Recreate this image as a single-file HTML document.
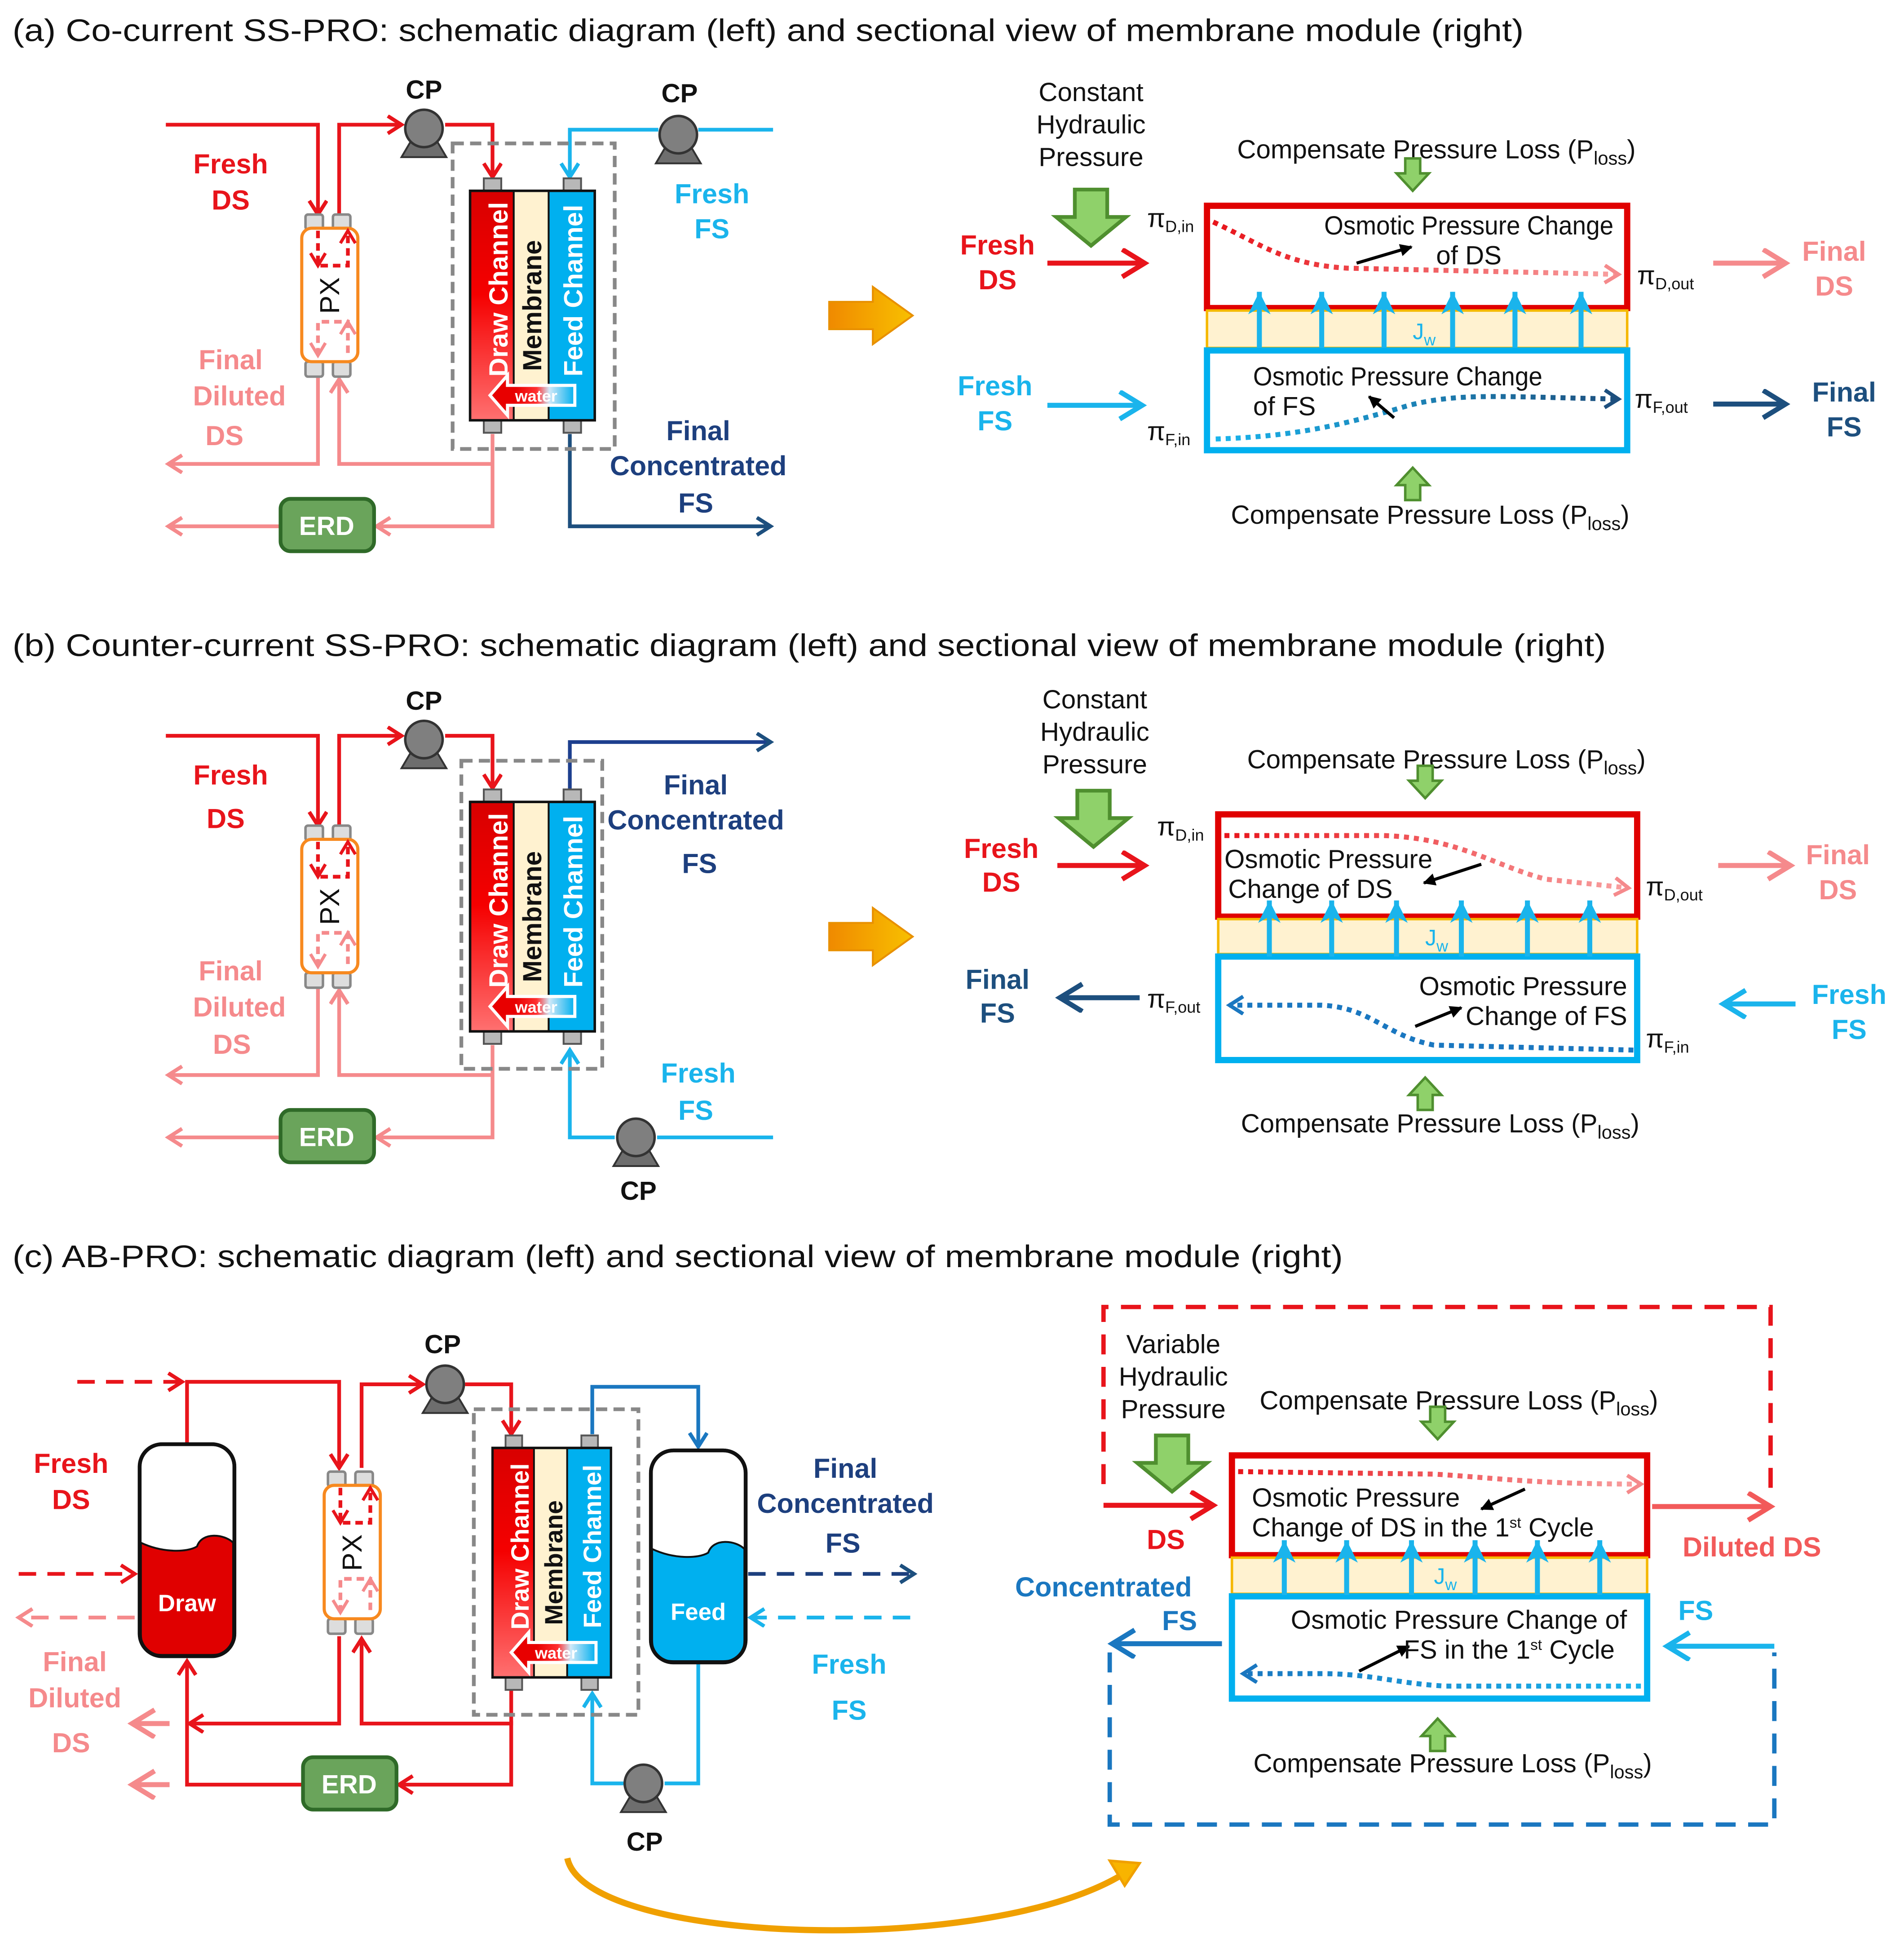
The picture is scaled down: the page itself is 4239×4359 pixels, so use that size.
<!DOCTYPE html>
<html><head><meta charset="utf-8"><style>
html,body{margin:0;padding:0;background:#fff}
svg{display:block}
text{font-family:"Liberation Sans",sans-serif}
.n{font-family:"Liberation Sans Narrow","Liberation Sans",sans-serif;font-size:21px;fill:#111}
.t{font-size:25px;fill:#111}
.b{font-weight:bold;font-size:22px}
.lab{font-weight:bold;font-size:21px;fill:#111;text-anchor:middle}
</style></head><body>
<svg width="4239" height="4359" viewBox="0 0 1527 1570" preserveAspectRatio="none" xmlns="http://www.w3.org/2000/svg">
<defs>
<marker id="aR" markerUnits="userSpaceOnUse" markerWidth="20" markerHeight="20" refX="12" refY="8" orient="auto"><path d="M1,1 L12,8 L1,15" fill="none" stroke="#e8141b" stroke-width="3"/></marker>
<marker id="aP" markerUnits="userSpaceOnUse" markerWidth="20" markerHeight="20" refX="12" refY="8" orient="auto"><path d="M1,1 L12,8 L1,15" fill="none" stroke="#f58a8c" stroke-width="3"/></marker>
<marker id="aB" markerUnits="userSpaceOnUse" markerWidth="20" markerHeight="20" refX="12" refY="8" orient="auto"><path d="M1,1 L12,8 L1,15" fill="none" stroke="#1ab4ec" stroke-width="3"/></marker>
<marker id="aN" markerUnits="userSpaceOnUse" markerWidth="20" markerHeight="20" refX="12" refY="8" orient="auto"><path d="M1,1 L12,8 L1,15" fill="none" stroke="#1d4f7e" stroke-width="3"/></marker>
<marker id="aD" markerUnits="userSpaceOnUse" markerWidth="20" markerHeight="20" refX="12" refY="8" orient="auto"><path d="M1,1 L12,8 L1,15" fill="none" stroke="#1a77c0" stroke-width="3"/></marker>
<marker id="aK" markerUnits="userSpaceOnUse" markerWidth="14" markerHeight="14" refX="9" refY="5" orient="auto"><path d="M0,0 L10,5 L0,10z" fill="#000"/></marker>
<marker id="AR" markerUnits="userSpaceOnUse" markerWidth="30" markerHeight="30" refX="20" refY="12" orient="auto"><path d="M2,1 L20,12 L2,23" fill="none" stroke="#e8141b" stroke-width="4"/></marker>
<marker id="AP" markerUnits="userSpaceOnUse" markerWidth="30" markerHeight="30" refX="20" refY="12" orient="auto"><path d="M2,1 L20,12 L2,23" fill="none" stroke="#f58a8c" stroke-width="4"/></marker>
<marker id="APR" markerUnits="userSpaceOnUse" markerWidth="30" markerHeight="30" refX="20" refY="12" orient="auto"><path d="M2,1 L20,12 L2,23" fill="none" stroke="#f25a5a" stroke-width="4"/></marker>
<marker id="AB" markerUnits="userSpaceOnUse" markerWidth="30" markerHeight="30" refX="20" refY="12" orient="auto"><path d="M2,1 L20,12 L2,23" fill="none" stroke="#1ab4ec" stroke-width="4"/></marker>
<marker id="AN" markerUnits="userSpaceOnUse" markerWidth="30" markerHeight="30" refX="20" refY="12" orient="auto"><path d="M2,1 L20,12 L2,23" fill="none" stroke="#1d4f7e" stroke-width="4"/></marker>
<marker id="AD" markerUnits="userSpaceOnUse" markerWidth="30" markerHeight="30" refX="20" refY="12" orient="auto"><path d="M2,1 L20,12 L2,23" fill="none" stroke="#1a77c0" stroke-width="4"/></marker>
<marker id="UB" markerUnits="userSpaceOnUse" markerWidth="30" markerHeight="30" refX="18" refY="10" orient="auto"><path d="M0,1 L18,10 L0,19 L5,10z" fill="#1ab4ec"/></marker>
<linearGradient id="gDraw" x1="0" y1="0" x2="0" y2="1"><stop offset="0" stop-color="#d80000"/><stop offset="0.45" stop-color="#f50000"/><stop offset="1" stop-color="#ff7070"/></linearGradient>
<linearGradient id="gWater" x1="0" y1="0" x2="1" y2="0"><stop offset="0.3" stop-color="#e80000"/><stop offset="0.55" stop-color="#ff3030"/><stop offset="0.7" stop-color="#d0e8f8"/><stop offset="1" stop-color="#00b0ef"/></linearGradient>
<linearGradient id="gDotR" x1="0" y1="0" x2="1" y2="0"><stop offset="0" stop-color="#e8141b"/><stop offset="1" stop-color="#f8a0a0"/></linearGradient>
<linearGradient id="gDotB" x1="0" y1="0" x2="1" y2="0"><stop offset="0" stop-color="#1ab4ec"/><stop offset="1" stop-color="#1d4f7e"/></linearGradient>
<linearGradient id="gDotB2" x1="0" y1="0" x2="1" y2="0"><stop offset="0" stop-color="#1a77c0"/><stop offset="1" stop-color="#1ab4ec"/></linearGradient>
<linearGradient id="gOr" x1="0" y1="0" x2="1" y2="0"><stop offset="0" stop-color="#f08a00"/><stop offset="1" stop-color="#f8c000"/></linearGradient>
<g id="modShape">
  <rect x="11" y="-10" width="14" height="10" fill="#b8b8b8" stroke="#555" stroke-width="1.5"/>
  <rect x="75" y="-10" width="14" height="10" fill="#b8b8b8" stroke="#555" stroke-width="1.5"/>
  <rect x="11" y="184" width="14" height="10" fill="#b8b8b8" stroke="#555" stroke-width="1.5"/>
  <rect x="75" y="184" width="14" height="10" fill="#b8b8b8" stroke="#555" stroke-width="1.5"/>
  <rect x="0" y="0" width="35" height="184" fill="url(#gDraw)"/>
  <rect x="35" y="0" width="28" height="184" fill="#fff2d0"/>
  <rect x="63" y="0" width="37" height="184" fill="#00b0ef"/>
  <rect x="0" y="0" width="100" height="184" fill="none" stroke="#111" stroke-width="2"/>
  <line x1="35" y1="0" x2="35" y2="184" stroke="#111" stroke-width="1.5"/>
  <line x1="63" y1="0" x2="63" y2="184" stroke="#111" stroke-width="1.5"/>
</g>
<g id="pxShape">
  <rect x="3" y="-11" width="14" height="12" rx="2" fill="#ddd" stroke="#888" stroke-width="2"/>
  <rect x="25" y="-11" width="14" height="12" rx="2" fill="#ddd" stroke="#888" stroke-width="2"/>
  <rect x="3" y="107" width="14" height="12" rx="2" fill="#ddd" stroke="#888" stroke-width="2"/>
  <rect x="25" y="107" width="14" height="12" rx="2" fill="#ddd" stroke="#888" stroke-width="2"/>
  <rect x="0" y="0" width="45" height="107" rx="8" fill="#fff" stroke="#f7891f" stroke-width="2.5"/>
  <path d="M13,2 V30 H37 V2" fill="none" stroke="#e8141b" stroke-width="3" stroke-dasharray="6,4"/>
  <path d="M13,102 V75 H37 V102" fill="none" stroke="#f58a8c" stroke-width="3" stroke-dasharray="6,4"/>
  <path d="M7,20 L13,30 L19,20" fill="none" stroke="#e8141b" stroke-width="2.5"/>
  <path d="M31,12 L37,2 L43,12" fill="none" stroke="#e8141b" stroke-width="2.5"/>
  <path d="M7,92 L13,102 L19,92" fill="none" stroke="#f58a8c" stroke-width="2.5"/>
  <path d="M31,85 L37,75 L43,85" fill="none" stroke="#f58a8c" stroke-width="2.5"/>
</g>
<g id="pump">
  <path d="M-18,23 L-8,6 L8,6 L18,23z" fill="#6e6e6e" stroke="#333" stroke-width="1.5"/>
  <circle cx="0" cy="0" r="15" fill="#7f7f7f" stroke="#333" stroke-width="2"/>
</g>
<g id="gdown"><path d="M-6,-18 H6 V-6 H13 L0,8 L-13,-6 H-6z" fill="#8fd16a" stroke="#4f8f2f" stroke-width="2"/></g>
<g id="gup"><path d="M-6,18 H6 V6 H13 L0,-8 L-13,6 H-6z" fill="#8fd16a" stroke="#4f8f2f" stroke-width="2"/></g>
<g id="gbig"><path d="M-13,0 H13 V22 H28 L0,45 L-28,22 H-13z" fill="#8fd16a" stroke="#4f8f2f" stroke-width="3"/></g>
<g id="wat"><path d="M0,12 L14,-4 V4 H68 V20 H14 V28z" fill="url(#gWater)" stroke="#fff" stroke-width="2.5"/></g>
<g id="erd"><rect x="0" y="0" width="75" height="42" rx="8" fill="#6aa45b" stroke="#2f6a28" stroke-width="3"/></g>
</defs>

<rect width="1527" height="1570" fill="#fff"/>

<!-- ================= (a) ================= -->
<text x="10" y="33" class="t" textLength="1212" lengthAdjust="spacingAndGlyphs">(a) Co-current SS-PRO: schematic diagram (left) and sectional view of membrane module (right)</text>

<g fill="none" stroke-width="3">
<polyline points="133,100 255,100 255,172" stroke="#e8141b" marker-end="url(#aR)"/>
<polyline points="272,172 272,100 322,100" stroke="#e8141b" marker-end="url(#aR)"/>
<polyline points="357,100 395,100 395,142" stroke="#e8141b" marker-end="url(#aR)"/>
<polyline points="620,104 560,104" stroke="#1ab4ec"/>
<polyline points="528,104 457,104 457,142" stroke="#1ab4ec" marker-end="url(#aB)"/>
<polyline points="457,348 457,422 618,422" stroke="#1d4f7e" marker-end="url(#aN)"/>
<polyline points="395,348 395,422 302,422" stroke="#f58a8c" marker-end="url(#aP)"/>
<polyline points="225,422 135,422" stroke="#f58a8c" marker-end="url(#aP)"/>
<polyline points="395,372 272,372 272,304" stroke="#f58a8c" marker-end="url(#aP)"/>
<polyline points="255,302 255,372 135,372" stroke="#f58a8c" marker-end="url(#aP)"/>
</g>
<use href="#pxShape" x="242" y="183"/>
<text transform="translate(272,237) rotate(-90)" text-anchor="middle" font-size="22" fill="#111">PX</text>
<rect x="363" y="115" width="130" height="245" fill="none" stroke="#888" stroke-width="3" stroke-dasharray="9,5"/>
<use href="#modShape" x="377" y="153"/>
<text transform="translate(407,232) rotate(-90)" text-anchor="middle" font-size="21" font-weight="bold" fill="#fff">Draw Channel</text>
<text transform="translate(434,245) rotate(-90)" text-anchor="middle" font-size="21" font-weight="bold" fill="#111">Membrane</text>
<text transform="translate(467,233) rotate(-90)" text-anchor="middle" font-size="21" font-weight="bold" fill="#fff">Feed Channel</text>
<use href="#wat" x="393" y="305"/>
<text x="430" y="322" font-size="13" font-weight="bold" fill="#fff" text-anchor="middle">water</text>
<use href="#pump" x="340" y="103"/>
<use href="#pump" x="544" y="108"/>
<text x="340" y="79" class="lab">CP</text>
<text x="545" y="82" class="lab">CP</text>
<text x="185" y="139" class="b" fill="#e8141b" text-anchor="middle">Fresh</text>
<text x="185" y="168" class="b" fill="#e8141b" text-anchor="middle">DS</text>
<text x="571" y="163" class="b" fill="#1ab4ec" text-anchor="middle">Fresh</text>
<text x="571" y="191" class="b" fill="#1ab4ec" text-anchor="middle">FS</text>
<text x="185" y="296" class="b" fill="#f58a8c" text-anchor="middle">Final</text>
<text x="192" y="325" class="b" fill="#f58a8c" text-anchor="middle">Diluted</text>
<text x="180" y="357" class="b" fill="#f58a8c" text-anchor="middle">DS</text>
<text x="560" y="353" class="b" fill="#1d3f7e" text-anchor="middle">Final</text>
<text x="560" y="381" class="b" fill="#1d3f7e" text-anchor="middle">Concentrated</text>
<text x="558" y="411" class="b" fill="#1d3f7e" text-anchor="middle">FS</text>
<use href="#erd" x="225" y="400"/>
<text x="262" y="429" font-size="21" font-weight="bold" fill="#fff" text-anchor="middle">ERD</text>
<path d="M665,242 H700 V230 L732,253 L700,276 V264 H665z" fill="url(#gOr)" stroke="#e89000" stroke-width="1.5"/>

<!-- (a) right -->
<text x="875" y="81" class="n" text-anchor="middle">Constant</text>
<text x="875" y="107" class="n" text-anchor="middle">Hydraulic</text>
<text x="875" y="133" class="n" text-anchor="middle">Pressure</text>
<use href="#gbig" x="875" y="152"/>
<text x="1152" y="127" class="n" text-anchor="middle">Compensate Pressure Loss (P<tspan font-size="15" dy="5">loss</tspan><tspan dy="-5">)</tspan></text>
<use href="#gdown" x="1133" y="145"/>
<rect x="968" y="165" width="337" height="82" fill="#fff" stroke="#e00000" stroke-width="5"/>
<rect x="968" y="249" width="337" height="30" fill="#fff2d0" stroke="#f5b800" stroke-width="2"/>
<rect x="968" y="281" width="337" height="80" fill="#fff" stroke="#00b0ef" stroke-width="5"/>
<g stroke="#1ab4ec" stroke-width="4" marker-end="url(#UB)">
<line x1="1010" y1="279" x2="1010" y2="234"/><line x1="1060" y1="279" x2="1060" y2="234"/><line x1="1110" y1="279" x2="1110" y2="234"/><line x1="1165" y1="279" x2="1165" y2="234"/><line x1="1215" y1="279" x2="1215" y2="234"/><line x1="1268" y1="279" x2="1268" y2="234"/>
</g>
<text x="1133" y="272" font-size="18" fill="#1ab4ec" font-family="Liberation Sans Narrow,Liberation Sans,sans-serif">J<tspan font-size="13" dy="5">w</tspan></text>
<path d="M973,178 C1010,195 1030,212 1080,215 L1298,220" fill="none" stroke="url(#gDotR)" stroke-width="4" stroke-dasharray="4,4" marker-end="url(#aP)"/>
<line x1="1088" y1="211" x2="1132" y2="198" stroke="#000" stroke-width="2.5" marker-end="url(#aK)"/>
<text x="1178" y="188" class="n" font-size="19" text-anchor="middle" textLength="232" lengthAdjust="spacingAndGlyphs">Osmotic Pressure Change</text>
<text x="1178" y="212" class="n" font-size="19" text-anchor="middle">of DS</text>
<path d="M975,352 C1040,350 1080,340 1130,325 C1170,315 1200,318 1298,320" fill="none" stroke="url(#gDotB)" stroke-width="4" stroke-dasharray="4,4" marker-end="url(#aN)"/>
<line x1="1118" y1="335" x2="1098" y2="318" stroke="#000" stroke-width="2.5" marker-end="url(#aK)"/>
<text x="1005" y="309" class="n" font-size="19" textLength="232" lengthAdjust="spacingAndGlyphs">Osmotic Pressure Change</text>
<text x="1005" y="333" class="n" font-size="19">of FS</text>
<text x="920" y="182" class="n" font-size="17">π<tspan font-size="13" dy="4">D,in</tspan></text>
<text x="1313" y="228" class="n" font-size="17">π<tspan font-size="13" dy="4">D,out</tspan></text>
<text x="920" y="353" class="n" font-size="17">π<tspan font-size="13" dy="4">F,in</tspan></text>
<text x="1311" y="327" class="n" font-size="17">π<tspan font-size="13" dy="4">F,out</tspan></text>
<line x1="840" y1="211" x2="918" y2="211" stroke="#e8141b" stroke-width="4" marker-end="url(#AR)"/>
<line x1="840" y1="325" x2="916" y2="325" stroke="#1ab4ec" stroke-width="4" marker-end="url(#AB)"/>
<line x1="1374" y1="211" x2="1432" y2="211" stroke="#f58a8c" stroke-width="4" marker-end="url(#AP)"/>
<line x1="1374" y1="324" x2="1432" y2="324" stroke="#1d4f7e" stroke-width="4" marker-end="url(#AN)"/>
<text x="800" y="204" class="b" fill="#e8141b" text-anchor="middle">Fresh</text>
<text x="800" y="232" class="b" fill="#e8141b" text-anchor="middle">DS</text>
<text x="798" y="317" class="b" fill="#1ab4ec" text-anchor="middle">Fresh</text>
<text x="798" y="345" class="b" fill="#1ab4ec" text-anchor="middle">FS</text>
<text x="1471" y="209" class="b" fill="#f58a8c" text-anchor="middle">Final</text>
<text x="1471" y="237" class="b" fill="#f58a8c" text-anchor="middle">DS</text>
<text x="1479" y="322" class="b" fill="#1d4f7e" text-anchor="middle">Final</text>
<text x="1479" y="350" class="b" fill="#1d4f7e" text-anchor="middle">FS</text>
<use href="#gup" x="1133" y="383"/>
<text x="1147" y="420" class="n" text-anchor="middle">Compensate Pressure Loss (P<tspan font-size="15" dy="5">loss</tspan><tspan dy="-5">)</tspan></text>

<!-- ================= (b) ================= -->
<text x="10" y="526" class="t" textLength="1278" lengthAdjust="spacingAndGlyphs">(b) Counter-current SS-PRO: schematic diagram (left) and sectional view of membrane module (right)</text>
<g fill="none" stroke-width="3">
<polyline points="133,590 255,590 255,662" stroke="#e8141b" marker-end="url(#aR)"/>
<polyline points="272,662 272,590 322,590" stroke="#e8141b" marker-end="url(#aR)"/>
<polyline points="357,590 395,590 395,632" stroke="#e8141b" marker-end="url(#aR)"/>
<polyline points="457,633 457,595 618,595" stroke="#1d3f8e" marker-end="url(#aN)"/>
<polyline points="620,912 527,912" stroke="#1ab4ec"/>
<polyline points="493,912 457,912 457,842" stroke="#1ab4ec" marker-end="url(#aB)"/>
<polyline points="395,838 395,912 302,912" stroke="#f58a8c" marker-end="url(#aP)"/>
<polyline points="225,912 135,912" stroke="#f58a8c" marker-end="url(#aP)"/>
<polyline points="395,862 272,862 272,794" stroke="#f58a8c" marker-end="url(#aP)"/>
<polyline points="255,792 255,862 135,862" stroke="#f58a8c" marker-end="url(#aP)"/>
</g>
<use href="#pxShape" x="242" y="673"/>
<text transform="translate(272,727) rotate(-90)" text-anchor="middle" font-size="22" fill="#111">PX</text>
<rect x="370" y="610" width="113" height="247" fill="none" stroke="#888" stroke-width="3" stroke-dasharray="9,5"/>
<use href="#modShape" x="377" y="643"/>
<text transform="translate(407,722) rotate(-90)" text-anchor="middle" font-size="21" font-weight="bold" fill="#fff">Draw Channel</text>
<text transform="translate(434,735) rotate(-90)" text-anchor="middle" font-size="21" font-weight="bold" fill="#111">Membrane</text>
<text transform="translate(467,723) rotate(-90)" text-anchor="middle" font-size="21" font-weight="bold" fill="#fff">Feed Channel</text>
<use href="#wat" x="393" y="795"/>
<text x="430" y="812" font-size="13" font-weight="bold" fill="#fff" text-anchor="middle">water</text>
<use href="#pump" x="340" y="593"/>
<use href="#pump" x="510" y="912"/>
<text x="340" y="569" class="lab">CP</text>
<text x="512" y="962" class="lab">CP</text>
<text x="185" y="629" class="b" fill="#e8141b" text-anchor="middle">Fresh</text>
<text x="181" y="664" class="b" fill="#e8141b" text-anchor="middle">DS</text>
<text x="185" y="786" class="b" fill="#f58a8c" text-anchor="middle">Final</text>
<text x="192" y="815" class="b" fill="#f58a8c" text-anchor="middle">Diluted</text>
<text x="186" y="845" class="b" fill="#f58a8c" text-anchor="middle">DS</text>
<text x="558" y="637" class="b" fill="#1d3f7e" text-anchor="middle">Final</text>
<text x="558" y="665" class="b" fill="#1d3f7e" text-anchor="middle">Concentrated</text>
<text x="561" y="700" class="b" fill="#1d3f7e" text-anchor="middle">FS</text>
<text x="560" y="868" class="b" fill="#1ab4ec" text-anchor="middle">Fresh</text>
<text x="558" y="898" class="b" fill="#1ab4ec" text-anchor="middle">FS</text>
<use href="#erd" x="225" y="890"/>
<text x="262" y="919" font-size="21" font-weight="bold" fill="#fff" text-anchor="middle">ERD</text>
<path d="M665,740 H700 V728 L732,751 L700,774 V762 H665z" fill="url(#gOr)" stroke="#e89000" stroke-width="1.5"/>

<!-- (b) right -->
<text x="878" y="568" class="n" text-anchor="middle">Constant</text>
<text x="878" y="594" class="n" text-anchor="middle">Hydraulic</text>
<text x="878" y="620" class="n" text-anchor="middle">Pressure</text>
<use href="#gbig" x="877" y="634"/>
<text x="1160" y="616" class="n" text-anchor="middle">Compensate Pressure Loss (P<tspan font-size="15" dy="5">loss</tspan><tspan dy="-5">)</tspan></text>
<use href="#gdown" x="1143" y="632"/>
<rect x="977" y="653" width="336" height="82" fill="#fff" stroke="#e00000" stroke-width="5"/>
<rect x="977" y="737" width="336" height="28" fill="#fff2d0" stroke="#f5b800" stroke-width="2"/>
<rect x="977" y="767" width="336" height="83" fill="#fff" stroke="#00b0ef" stroke-width="5"/>
<g stroke="#1ab4ec" stroke-width="4" marker-end="url(#UB)">
<line x1="1018" y1="767" x2="1018" y2="722"/><line x1="1068" y1="767" x2="1068" y2="722"/><line x1="1120" y1="767" x2="1120" y2="722"/><line x1="1172" y1="767" x2="1172" y2="722"/><line x1="1225" y1="767" x2="1225" y2="722"/><line x1="1275" y1="767" x2="1275" y2="722"/>
</g>
<text x="1143" y="758" font-size="18" fill="#1ab4ec" font-family="Liberation Sans Narrow,Liberation Sans,sans-serif">J<tspan font-size="13" dy="5">w</tspan></text>
<path d="M982,670 L1110,670 C1170,672 1200,695 1240,705 L1306,712" fill="none" stroke="url(#gDotR)" stroke-width="4" stroke-dasharray="4,4" marker-end="url(#aP)"/>
<line x1="1188" y1="693" x2="1142" y2="708" stroke="#000" stroke-width="2.5" marker-end="url(#aK)"/>
<text x="982" y="696" class="n" font-size="19">Osmotic Pressure</text>
<text x="985" y="720" class="n" font-size="19">Change of DS</text>
<path d="M1310,842 L1150,838 C1110,830 1100,808 1060,806 L986,806" fill="none" stroke="#1a77c0" stroke-width="4" stroke-dasharray="4,4" marker-end="url(#aD)"/>
<line x1="1135" y1="823" x2="1172" y2="808" stroke="#000" stroke-width="2.5" marker-end="url(#aK)"/>
<text x="1305" y="798" class="n" font-size="19" text-anchor="end">Osmotic Pressure</text>
<text x="1305" y="822" class="n" font-size="19" text-anchor="end">Change of FS</text>
<text x="928" y="670" class="n" font-size="17">π<tspan font-size="13" dy="4">D,in</tspan></text>
<text x="1320" y="718" class="n" font-size="17">π<tspan font-size="13" dy="4">D,out</tspan></text>
<text x="920" y="808" class="n" font-size="17">π<tspan font-size="13" dy="4">F,out</tspan></text>
<text x="1320" y="840" class="n" font-size="17">π<tspan font-size="13" dy="4">F,in</tspan></text>
<line x1="848" y1="694" x2="918" y2="694" stroke="#e8141b" stroke-width="4" marker-end="url(#AR)"/>
<line x1="914" y1="800" x2="850" y2="800" stroke="#1d4f7e" stroke-width="4" marker-end="url(#AN)"/>
<line x1="1378" y1="694" x2="1436" y2="694" stroke="#f58a8c" stroke-width="4" marker-end="url(#AP)"/>
<line x1="1440" y1="805" x2="1382" y2="805" stroke="#1ab4ec" stroke-width="4" marker-end="url(#AB)"/>
<text x="803" y="688" class="b" fill="#e8141b" text-anchor="middle">Fresh</text>
<text x="803" y="715" class="b" fill="#e8141b" text-anchor="middle">DS</text>
<text x="800" y="793" class="b" fill="#1d4f7e" text-anchor="middle">Final</text>
<text x="800" y="820" class="b" fill="#1d4f7e" text-anchor="middle">FS</text>
<text x="1474" y="693" class="b" fill="#f58a8c" text-anchor="middle">Final</text>
<text x="1474" y="721" class="b" fill="#f58a8c" text-anchor="middle">DS</text>
<text x="1483" y="805" class="b" fill="#1ab4ec" text-anchor="middle">Fresh</text>
<text x="1483" y="833" class="b" fill="#1ab4ec" text-anchor="middle">FS</text>
<use href="#gup" x="1143" y="872"/>
<text x="1155" y="908" class="n" text-anchor="middle">Compensate Pressure Loss (P<tspan font-size="15" dy="5">loss</tspan><tspan dy="-5">)</tspan></text>

<!-- ================= (c) ================= -->
<text x="10" y="1016" class="t" textLength="1067" lengthAdjust="spacingAndGlyphs">(c) AB-PRO: schematic diagram (left) and sectional view of membrane module (right)</text>
<g fill="none" stroke-width="3">
<line x1="62" y1="1108" x2="146" y2="1108" stroke="#e8141b" stroke-dasharray="14,9" marker-end="url(#aR)"/>
<polyline points="150,1158 150,1108 272,1108 272,1177" stroke="#e8141b" marker-end="url(#aR)"/>
<polyline points="290,1177 290,1110 339,1110" stroke="#e8141b" marker-end="url(#aR)"/>
<polyline points="373,1110 410,1110 410,1150" stroke="#e8141b" marker-end="url(#aR)"/>
<line x1="15" y1="1262" x2="108" y2="1262" stroke="#e8141b" stroke-dasharray="14,9" marker-end="url(#aR)"/>
<line x1="108" y1="1297" x2="15" y2="1297" stroke="#f58a8c" stroke-dasharray="14,9" marker-end="url(#aP)"/>
<polyline points="272,1312 272,1382 152,1382" stroke="#e8141b" marker-end="url(#aR)"/>
<polyline points="410,1355 410,1382 290,1382 290,1314" stroke="#e8141b" marker-end="url(#aR)"/>
<polyline points="410,1380 410,1431 320,1431" stroke="#e8141b" marker-end="url(#aR)"/>
<polyline points="243,1431 150,1431 150,1332" stroke="#e8141b" marker-end="url(#aR)"/>
<line x1="136" y1="1382" x2="106" y2="1382" stroke="#f58a8c" marker-end="url(#AP)" stroke-width="4"/>
<line x1="136" y1="1431" x2="106" y2="1431" stroke="#f58a8c" marker-end="url(#AP)" stroke-width="4"/>
<polyline points="475,1150 475,1112 560,1112 560,1160" stroke="#1a77c0" marker-end="url(#aD)"/>
<polyline points="560,1333 560,1430 533,1430" stroke="#1ab4ec"/>
<polyline points="500,1430 475,1430 475,1358" stroke="#1ab4ec" marker-end="url(#aB)"/>
<line x1="600" y1="1262" x2="733" y2="1262" stroke="#1d3f7e" stroke-dasharray="14,9" marker-end="url(#aN)"/>
<line x1="730" y1="1297" x2="602" y2="1297" stroke="#1ab4ec" stroke-dasharray="14,9" marker-end="url(#aB)"/>
</g>
<!-- tanks -->
<rect x="112" y="1158" width="76" height="170" rx="18" fill="#fff" stroke="#111" stroke-width="3"/>
<path d="M113,1237 C130,1245 150,1245 158,1240 C162,1228 180,1230 187,1237 V1310 Q187,1327 170,1327 H130 Q113,1327 113,1310z" fill="#e00000" stroke="#111" stroke-width="1.5"/>
<rect x="112" y="1158" width="76" height="170" rx="18" fill="none" stroke="#111" stroke-width="3"/>
<text x="150" y="1292" font-size="19" font-weight="bold" fill="#fff" text-anchor="middle">Draw</text>
<rect x="522" y="1163" width="76" height="170" rx="18" fill="#fff" stroke="#111" stroke-width="3"/>
<path d="M523,1242 C540,1250 560,1250 568,1245 C572,1233 590,1235 597,1242 V1315 Q597,1332 580,1332 H540 Q523,1332 523,1315z" fill="#00b0ef" stroke="#111" stroke-width="1.5"/>
<rect x="522" y="1163" width="76" height="170" rx="18" fill="none" stroke="#111" stroke-width="3"/>
<text x="560" y="1299" font-size="19" font-weight="bold" fill="#fff" text-anchor="middle">Feed</text>
<use href="#pxShape" x="260" y="1191"/>
<text transform="translate(290,1245) rotate(-90)" text-anchor="middle" font-size="22" fill="#111">PX</text>
<rect x="380" y="1130" width="132" height="245" fill="none" stroke="#888" stroke-width="3" stroke-dasharray="9,5"/>
<g transform="translate(395,1161) scale(0.95,1)"><use href="#modShape"/></g>
<text transform="translate(424,1240) rotate(-90)" text-anchor="middle" font-size="20" font-weight="bold" fill="#fff">Draw Channel</text>
<text transform="translate(451,1253) rotate(-90)" text-anchor="middle" font-size="20" font-weight="bold" fill="#111">Membrane</text>
<text transform="translate(482,1240) rotate(-90)" text-anchor="middle" font-size="20" font-weight="bold" fill="#fff">Feed Channel</text>
<use href="#wat" x="410" y="1313"/>
<text x="446" y="1330" font-size="13" font-weight="bold" fill="#fff" text-anchor="middle">water</text>
<use href="#pump" x="357" y="1110"/>
<use href="#pump" x="516" y="1430"/>
<text x="355" y="1085" class="lab">CP</text>
<text x="517" y="1484" class="lab">CP</text>
<use href="#erd" x="243" y="1409"/>
<text x="280" y="1438" font-size="21" font-weight="bold" fill="#fff" text-anchor="middle">ERD</text>
<text x="57" y="1181" class="b" fill="#e8141b" text-anchor="middle">Fresh</text>
<text x="57" y="1210" class="b" fill="#e8141b" text-anchor="middle">DS</text>
<text x="60" y="1340" class="b" fill="#f58a8c" text-anchor="middle">Final</text>
<text x="60" y="1369" class="b" fill="#f58a8c" text-anchor="middle">Diluted</text>
<text x="57" y="1405" class="b" fill="#f58a8c" text-anchor="middle">DS</text>
<text x="678" y="1185" class="b" fill="#1d3f7e" text-anchor="middle">Final</text>
<text x="678" y="1213" class="b" fill="#1d3f7e" text-anchor="middle">Concentrated</text>
<text x="676" y="1245" class="b" fill="#1d3f7e" text-anchor="middle">FS</text>
<text x="681" y="1342" class="b" fill="#1ab4ec" text-anchor="middle">Fresh</text>
<text x="681" y="1379" class="b" fill="#1ab4ec" text-anchor="middle">FS</text>
<path d="M455,1490 C470,1560 800,1570 905,1500" fill="none" stroke="#f0a000" stroke-width="5"/>
<path d="M890,1492 L914,1494 L902,1512z" fill="#f8b400" stroke="#f0a000" stroke-width="2"/>

<!-- (c) right -->
<polyline points="885,1190 885,1048 1420,1048 1420,1200" fill="none" stroke="#e8141b" stroke-width="3.5" stroke-dasharray="16,10"/>
<polyline points="890,1325 890,1463 1423,1463 1423,1325" fill="none" stroke="#1a77c0" stroke-width="3.5" stroke-dasharray="16,10"/>
<text x="941" y="1085" class="n" text-anchor="middle">Variable</text>
<text x="941" y="1111" class="n" text-anchor="middle">Hydraulic</text>
<text x="941" y="1137" class="n" text-anchor="middle">Pressure</text>
<use href="#gbig" x="940" y="1151"/>
<text x="1170" y="1130" class="n" text-anchor="middle">Compensate Pressure Loss (P<tspan font-size="15" dy="5">loss</tspan><tspan dy="-5">)</tspan></text>
<use href="#gdown" x="1153" y="1146"/>
<rect x="988" y="1167" width="333" height="80" fill="#fff" stroke="#e00000" stroke-width="5"/>
<rect x="988" y="1249" width="333" height="29" fill="#fff2d0" stroke="#f5b800" stroke-width="2"/>
<rect x="988" y="1280" width="333" height="82" fill="#fff" stroke="#00b0ef" stroke-width="5"/>
<g stroke="#1ab4ec" stroke-width="4" marker-end="url(#UB)">
<line x1="1030" y1="1279" x2="1030" y2="1235"/><line x1="1080" y1="1279" x2="1080" y2="1235"/><line x1="1132" y1="1279" x2="1132" y2="1235"/><line x1="1183" y1="1279" x2="1183" y2="1235"/><line x1="1233" y1="1279" x2="1233" y2="1235"/><line x1="1283" y1="1279" x2="1283" y2="1235"/>
</g>
<text x="1150" y="1270" font-size="18" fill="#1ab4ec" font-family="Liberation Sans Narrow,Liberation Sans,sans-serif">J<tspan font-size="13" dy="5">w</tspan></text>
<path d="M993,1180 L1150,1182 C1200,1185 1230,1190 1316,1190" fill="none" stroke="url(#gDotR)" stroke-width="4" stroke-dasharray="4,4" marker-end="url(#aP)"/>
<line x1="1223" y1="1194" x2="1188" y2="1210" stroke="#000" stroke-width="2.5" marker-end="url(#aK)"/>
<text x="1004" y="1208" class="n" font-size="19">Osmotic Pressure</text>
<text x="1004" y="1232" class="n" font-size="19">Change of DS in the 1<tspan font-size="12" dy="-7">st</tspan><tspan dy="7"> Cycle</tspan></text>
<path d="M1316,1352 L1160,1352 C1120,1350 1100,1342 1060,1342 L997,1342" fill="none" stroke="url(#gDotB2)" stroke-width="4" stroke-dasharray="4,4" marker-end="url(#aD)"/>
<line x1="1090" y1="1340" x2="1130" y2="1320" stroke="#000" stroke-width="2.5" marker-end="url(#aK)"/>
<text x="1170" y="1306" class="n" font-size="19" text-anchor="middle">Osmotic Pressure Change of</text>
<text x="1295" y="1330" class="n" font-size="19" text-anchor="end">FS in the 1<tspan font-size="12" dy="-7">st</tspan><tspan dy="7"> Cycle</tspan></text>
<line x1="885" y1="1207" x2="973" y2="1207" stroke="#e8141b" stroke-width="4" marker-end="url(#AR)"/>
<line x1="1325" y1="1208" x2="1420" y2="1208" stroke="#f25a5a" stroke-width="4" marker-end="url(#APR)"/>
<line x1="980" y1="1318" x2="892" y2="1318" stroke="#1a77c0" stroke-width="4" marker-end="url(#AD)"/>
<line x1="1423" y1="1320" x2="1337" y2="1320" stroke="#1ab4ec" stroke-width="4" marker-end="url(#AB)"/>
<text x="935" y="1242" class="b" fill="#e8141b" text-anchor="middle">DS</text>
<text x="1405" y="1248" class="b" fill="#f25a5a" text-anchor="middle">Diluted DS</text>
<text x="885" y="1280" class="b" fill="#1a77c0" text-anchor="middle">Concentrated</text>
<text x="946" y="1307" class="b" fill="#1a77c0" text-anchor="middle">FS</text>
<text x="1360" y="1299" class="b" fill="#1ab4ec" text-anchor="middle">FS</text>
<use href="#gup" x="1153" y="1386"/>
<text x="1165" y="1421" class="n" text-anchor="middle">Compensate Pressure Loss (P<tspan font-size="15" dy="5">loss</tspan><tspan dy="-5">)</tspan></text>
</svg>
</body></html>
